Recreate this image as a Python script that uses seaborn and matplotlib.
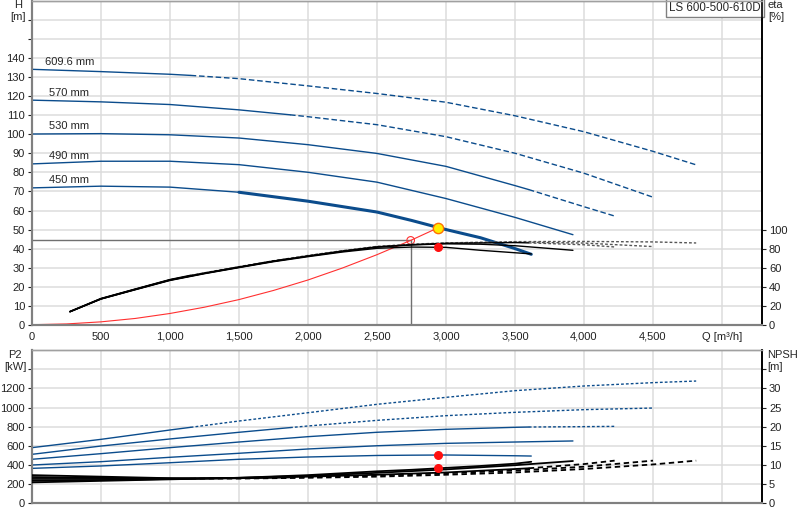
import pandas as pd
import matplotlib.pyplot as plt
import seaborn as sns

sns.set_style('white')
plt.rcParams['font.family'] = ['Liberation Sans', 'DejaVu Sans']
plt.rcParams['font.size'] = 8

# impeller diameters and where each curve switches from solid to dashed (m3/h)
diameters = ['609.6 mm', '570 mm', '530 mm', '490 mm', '450 mm']
solid_until = [1150, 1870, 3600, 3920, 3618]

# Q-H curves
q_609 = [0, 500, 1000, 1150, 1500, 2000, 2500, 3000, 3500, 4000, 4500, 4813]
h_609 = [134.2, 133.0, 131.6, 131.0, 129.3, 125.5, 121.5, 116.9, 109.8, 101.4, 91.1, 84.0]
q_570 = [0, 500, 1000, 1500, 1870, 2000, 2500, 3000, 3500, 4000, 4500]
h_570 = [118.0, 117.1, 115.7, 112.9, 110.3, 109.3, 105.1, 98.8, 90.1, 79.6, 67.0]
q_530 = [0, 500, 1000, 1500, 2000, 2500, 3000, 3500, 3600, 4000, 4222]
h_530 = [100.2, 100.4, 99.8, 98.1, 94.6, 90.0, 83.2, 73.1, 71.0, 62.0, 57.1]
q_490 = [0, 500, 1000, 1500, 2000, 2500, 3000, 3500, 3920]
h_490 = [84.5, 85.9, 85.9, 84.1, 80.1, 74.9, 66.3, 56.4, 47.3]
q_450 = [0, 500, 1000, 1500, 2000, 2500, 2750, 3000, 3250, 3500, 3618]
h_450 = [71.9, 72.8, 72.3, 69.6, 64.9, 59.2, 54.8, 50.0, 45.7, 40.0, 37.0]

# efficiency curves [%]
qe_609 = [275, 500, 750, 1000, 1150, 1500, 1750, 2000, 2250, 2500, 2750, 3000, 3500, 4000, 4500, 4813]
eta_609 = [14.0, 27.6, 37.6, 47.5, 52.0, 61.0, 67.2, 72.8, 77.8, 82.3, 84.6, 86.0, 87.3, 87.5, 87.0, 85.9]
qe_570 = [275, 500, 750, 1000, 1250, 1500, 1750, 1870, 2000, 2250, 2500, 2750, 3000, 3500, 4000, 4500]
eta_570 = [13.8, 27.4, 37.4, 47.2, 54.3, 60.7, 67.0, 69.5, 72.5, 77.6, 82.0, 84.3, 85.8, 86.8, 85.8, 82.1]
qe_530 = [275, 500, 750, 1000, 1250, 1500, 1750, 2000, 2250, 2500, 2750, 3000, 3500, 3600, 4000, 4222]
eta_530 = [13.6, 27.2, 37.2, 47.0, 54.1, 60.5, 66.8, 72.2, 77.4, 81.8, 84.0, 85.5, 86.3, 86.0, 84.0, 81.7]
qe_490 = [275, 500, 750, 1000, 1250, 1500, 1750, 2000, 2250, 2500, 2750, 3000, 3250, 3500, 3920]
eta_490 = [13.6, 27.0, 37.0, 46.8, 53.9, 60.3, 66.6, 72.0, 77.0, 81.5, 83.8, 85.0, 84.6, 83.0, 78.2]
qe_450 = [275, 500, 750, 1000, 1250, 1500, 1750, 2000, 2250, 2500, 2750, 3000, 3250, 3618]
eta_450 = [13.6, 27.0, 36.8, 46.5, 53.6, 60.0, 66.2, 71.5, 76.4, 80.3, 81.6, 81.3, 78.2, 74.4]

# power curves P2 [kW]
p2_609 = [580, 667, 765, 793, 859, 946, 1034, 1107, 1177, 1226, 1261, 1278]
p2_570 = [510, 597, 671, 741, 790, 807, 866, 915, 950, 978, 995]
p2_530 = [458, 517, 580, 639, 695, 741, 772, 793, 796, 800, 803]
p2_490 = [398, 433, 479, 521, 566, 600, 625, 639, 650]
p2_450 = [363, 388, 422, 458, 482, 498, 501, 503, 499, 495, 492]

# NPSH curves [m]
npsh_609 = [7.3, 6.9, 6.5, 6.4, 6.4, 6.6, 6.9, 7.4, 8.0, 8.9, 10.1, 11.1]
npsh_570 = [6.8, 6.6, 6.4, 6.5, 6.7, 6.8, 7.2, 7.8, 8.5, 9.5, 11.1]
npsh_530 = [6.3, 6.3, 6.4, 6.5, 6.9, 7.4, 8.0, 8.9, 9.1, 10.2, 11.1]
npsh_490 = [5.8, 6.0, 6.3, 6.6, 7.1, 7.9, 8.8, 9.9, 11.0]
npsh_450 = [5.4, 5.8, 6.2, 6.6, 7.3, 8.3, 8.7, 9.2, 9.7, 10.3, 10.8]

# system curve and operating point
sys_q = [0, 250, 500, 750, 1000, 1250, 1500, 1750, 2000, 2250, 2500, 2744, 2945]
sys_h = [0, 0.4, 1.5, 3.3, 5.9, 9.2, 13.2, 18.0, 23.5, 29.8, 36.8, 44.3, 51.0]
req_q, req_h = 2744, 44.3
duty_q, duty_h, duty_eta, duty_p2, duty_npsh = 2945, 51.0, 81.4, 503, 9.1

q_ticks = [0, 500, 1000, 1500, 2000, 2500, 3000, 3500, 4000, 4500, 5000]
q_labels = ['0', '500', '1,000', '1,500', '2,000', '2,500', '3,000', '3,500',
            '4,000', '4,500', 'Q [m\u00b3/h]']

blue = '#0b4c8c'
grid_c = '#dcdcdc'
Q_MAX = 5290


def curve(ax, q, v, split, color, lw, dash, dash_color=None):
    df = pd.DataFrame({'Q': q, 'v': v})
    solid = df[df.Q <= split]
    rest = df[df.Q >= split]
    sns.lineplot(data=solid, x='Q', y='v', ax=ax, color=color, lw=lw,
                 sort=False, estimator=None, zorder=3)
    if len(rest) > 1:
        sns.lineplot(data=rest, x='Q', y='v', ax=ax, color=dash_color or color,
                     lw=lw, linestyle=dash, sort=False, estimator=None, zorder=3)


fig = plt.figure(figsize=(8, 5.2), dpi=100)
ax = fig.add_axes([32 / 800, 1 - 324.7 / 520, 730 / 800, 323.5 / 520])
ax_eta = ax.twinx()
bx = fig.add_axes([32 / 800, 1 - 503 / 520, 730 / 800, 152.7 / 520])
bx_np = bx.twinx()

h_sets = [(q_609, h_609), (q_570, h_570), (q_530, h_530), (q_490, h_490), (q_450, h_450)]
e_sets = [(qe_609, eta_609), (qe_570, eta_570), (qe_530, eta_530), (qe_490, eta_490), (qe_450, eta_450)]
p_sets = [p2_609, p2_570, p2_530, p2_490, p2_450]
n_sets = [npsh_609, npsh_570, npsh_530, npsh_490, npsh_450]

for i, name in enumerate(diameters):
    q, h = h_sets[i]
    if i == 4:
        # smallest impeller: thin start, thick over the working range
        curve(ax, q[:4], h[:4], 99999, blue, 1.0, '-')
        curve(ax, q[3:], h[3:], 99999, blue, 2.2, '-')
    else:
        curve(ax, q, h, solid_until[i], blue, 1.0, (0, (4, 2)))
    ax.text(95 if i == 0 else 125, h[0] + 4, name, va='center', fontsize=8)

    qe, e = e_sets[i]
    curve(ax_eta, qe, e, solid_until[i], 'black', 1.0, (0, (2, 1.5)), '#555555')
    curve(bx, q, p_sets[i], solid_until[i], blue, 1.0, (0, (2, 1.5)))
    curve(bx_np, q, n_sets[i], solid_until[i], 'black', 1.3, (0, (3, 2)))

# system curve and operating lines
sns.lineplot(x=sys_q, y=sys_h, ax=ax, color='#ff3030', lw=0.8, sort=False,
             estimator=None, zorder=4)
sns.lineplot(x=[0, req_q], y=[req_h, req_h], ax=ax, color='#707070', lw=1.0,
             estimator=None, zorder=2)
sns.lineplot(x=[req_q, req_q], y=[0, req_h], ax=ax, color='#707070', lw=1.0,
             estimator=None, zorder=2)
ax.scatter([req_q], [req_h], s=30, facecolor='none', edgecolor='#ff3030',
           lw=0.8, zorder=5)
ax.scatter([duty_q], [duty_h], s=55, facecolor='#ffee00', edgecolor='#ff7000',
           lw=1.0, zorder=6)
ax_eta.scatter([duty_q], [duty_eta], s=30, color='#ff1010', zorder=6)
bx.scatter([duty_q], [duty_p2], s=30, color='#ff1010', zorder=6)
bx_np.scatter([duty_q], [duty_npsh], s=30, color='#ff1010', zorder=6)

ax.text(Q_MAX - 8, 169.5, 'LS 600-500-610D', ha='right', va='top', fontsize=8.3,
        bbox=dict(boxstyle='square,pad=0.25', fc='white', ec='#808080', lw=1.0),
        zorder=7)

# axes, ticks and grid
for a in (ax, bx):
    a.set_xlim(0, Q_MAX)
    a.set_xticks(q_ticks)
    a.grid(True, color=grid_c, lw=1.1)
    a.set_axisbelow(True)
    a.set_xlabel('')
    a.set_ylabel('')
ax.set_xticklabels(q_labels)
bx.set_xticklabels([])

ax.set_ylim(0, 170)
ax.set_yticks(range(0, 170, 10))
ax.set_yticklabels([str(v) if v <= 140 else '' for v in range(0, 170, 10)])
ax_eta.set_ylim(0, 340)
ax_eta.set_yticks(range(0, 101, 20))

bx.set_ylim(0, 1600)
bx.set_yticks(range(0, 1600, 200))
bx.set_yticklabels([str(v) if v <= 1200 else '' for v in range(0, 1600, 200)])
bx_np.set_ylim(0, 40)
bx_np.set_yticks(range(0, 40, 5))
bx_np.set_yticklabels([str(v) if v <= 30 else '' for v in range(0, 40, 5)])

for a in (ax_eta, bx_np):
    a.set_ylabel('')
    a.grid(False)

for a in (ax, bx, ax_eta, bx_np):
    a.tick_params(length=3, width=0.8, pad=2, colors='#222222', labelsize=8)
    for s in ('left', 'bottom'):
        a.spines[s].set_color('#808080')
        a.spines[s].set_linewidth(1.5)
    a.spines['top'].set_color('#a0a0a0')
    a.spines['top'].set_linewidth(1.0)
    a.spines['right'].set_color('black')
    a.spines['right'].set_linewidth(1.2)

fig.text(18 / 800, 1 - 11 / 520, 'H\n[m]', ha='center', va='center', fontsize=8,
         linespacing=1.3)
fig.text(768 / 800, 1 - 11 / 520, 'eta\n[%]', ha='left', va='center', fontsize=8,
         linespacing=1.3)
fig.text(15 / 800, 1 - 361 / 520, 'P2\n[kW]', ha='center', va='center', fontsize=8,
         linespacing=1.3)
fig.text(767 / 800, 1 - 361 / 520, 'NPSH\n[m]', ha='left', va='center', fontsize=8,
         linespacing=1.3)

fig.savefig('out.png', dpi=100)
